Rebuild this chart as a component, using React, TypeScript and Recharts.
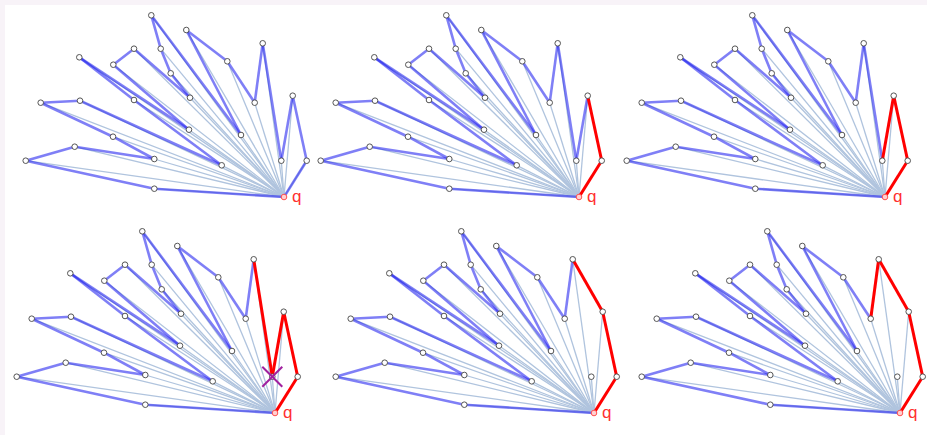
import React from 'react';
import { ScatterChart, Scatter, XAxis, YAxis, ReferenceLine } from 'recharts';

// polygon vertices in boundary order starting at q, coordinates relative to q (y up)
const vertexIds = ['q', 'W', 'V', 'U', 'T', 'S', 'R', 'O', 'N', 'M', 'L', 'K', 'F', 'C', 'B', 'E', 'A', 'D', 'G', 'P7', 'P6', 'P5', 'P4', 'P3', 'P2', 'P1'];
const vertexX = [0, 22.7, 8.7, -2.7, -21.3, -29.3, -56.7, -97.7, -43, -132.7, -123.3, -113.3, -94, -150, -170.7, -95, -204.7, -150, -62.3, -204, -243.3, -171, -129.7, -209.3, -258.3, -129.7];
const vertexY = [0, 36.3, 101.3, 36.3, 153.7, 94.3, 135.7, 167, 62, 181.7, 148.3, 123.7, 99.3, 148.3, 132.3, 67.3, 139.7, 97, 31.7, 96.3, 94.3, 60.3, 38, 50.3, 36.3, 8.3];

// one entry per step: the red chain built so far and the vertex being crossed out
const redChains = [
  [],
  ['q', 'W', 'V'],
  ['q', 'W', 'V', 'U'],
  ['q', 'W', 'V', 'U', 'T'],
  ['q', 'W', 'V', 'T'],
  ['q', 'W', 'V', 'T', 'S'],
];
const crossedOut = ['', '', '', 'U', '', ''];

// where q sits on the page for each step
const panelQ = [
  [283.7, 197],
  [578.7, 197],
  [885.3, 197],
  [275, 413],
  [593.7, 413],
  [900.3, 413],
];

const W = 320;
const H = 210;
const X_DOMAIN: [number, number] = [-290, 30];
const Y_DOMAIN: [number, number] = [-15, 195];

const points = vertexIds.map((id, i) => ({ id, x: vertexX[i], y: vertexY[i] }));
const byId: Record<string, { id: string; x: number; y: number }> = {};
points.forEach((p) => (byId[p.id] = p));

const seg = (a: string, b: string) => [
  { x: byId[a].x, y: byId[a].y },
  { x: byId[b].x, y: byId[b].y },
];

const VertexDot = (p: any) => (
  <circle cx={p.cx} cy={p.cy} r={2.8} fill="#fff" stroke="#555" strokeWidth={1} />
);

const QDot = (p: any) => (
  <g>
    <circle cx={p.cx} cy={p.cy} r={2.8} fill="#ffd0d0" stroke="#ff5050" strokeWidth={1} />
    <text x={p.cx + 8} y={p.cy + 5} fill="#ff3030" fontSize={17} fontFamily="'Liberation Sans', Arial, sans-serif">
      q
    </text>
  </g>
);

const Cross = (p: any) => (
  <g stroke="#a0209f" strokeWidth={2}>
    <line x1={p.cx - 10} y1={p.cy - 10} x2={p.cx + 10} y2={p.cy + 10} />
    <line x1={p.cx - 10} y1={p.cy + 10} x2={p.cx + 10} y2={p.cy - 10} />
  </g>
);

function Panel({ step }: { step: number }) {
  const [qx, qy] = panelQ[step];
  const red = redChains[step];
  const start = red.length ? red[red.length - 1] : 'q';
  const blue = [...vertexIds.slice(vertexIds.indexOf(start)), 'q'];
  const crossed = crossedOut[step];

  return (
    <div style={{ position: 'absolute', left: qx + X_DOMAIN[0], top: qy - Y_DOMAIN[1] }}>
      <ScatterChart width={W} height={H} margin={{ top: 0, right: 0, bottom: 0, left: 0 }}>
        <XAxis type="number" dataKey="x" domain={X_DOMAIN} hide allowDataOverflow />
        <YAxis type="number" dataKey="y" domain={Y_DOMAIN} hide allowDataOverflow />
        {points.slice(1).map((p) => (
          <ReferenceLine
            key={'ray' + p.id}
            segment={seg('q', p.id)}
            stroke="#b0c4de"
            strokeWidth={1.3}
            ifOverflow="visible"
          />
        ))}
        {blue.slice(1).map((id, i) => (
          <ReferenceLine
            key={'blue' + i}
            segment={seg(blue[i], id)}
            stroke="#2a2af0"
            strokeOpacity={0.6}
            strokeWidth={2.6}
            ifOverflow="visible"
          />
        ))}
        {red.slice(1).map((id, i) => (
          <ReferenceLine
            key={'red' + i}
            segment={seg(red[i], id)}
            stroke="#ff0000"
            strokeWidth={3}
            ifOverflow="visible"
          />
        ))}
        <Scatter data={points.slice(1)} shape={VertexDot} isAnimationActive={false} />
        <Scatter data={[points[0]]} shape={QDot} isAnimationActive={false} />
        {crossed && <Scatter data={[byId[crossed]]} shape={Cross} isAnimationActive={false} />}
      </ScatterChart>
    </div>
  );
}

export default function App() {
  return (
    <div
      style={{
        position: 'fixed',
        left: 0,
        top: 0,
        width: 927,
        height: 435,
        background: '#f8f3f8',
        overflow: 'hidden',
      }}
    >
      <div style={{ position: 'absolute', left: 5, top: 5, right: 0, bottom: 0, background: '#fff' }} />
      {panelQ.map((_, i) => (
        <Panel key={i} step={i} />
      ))}
    </div>
  );
}
